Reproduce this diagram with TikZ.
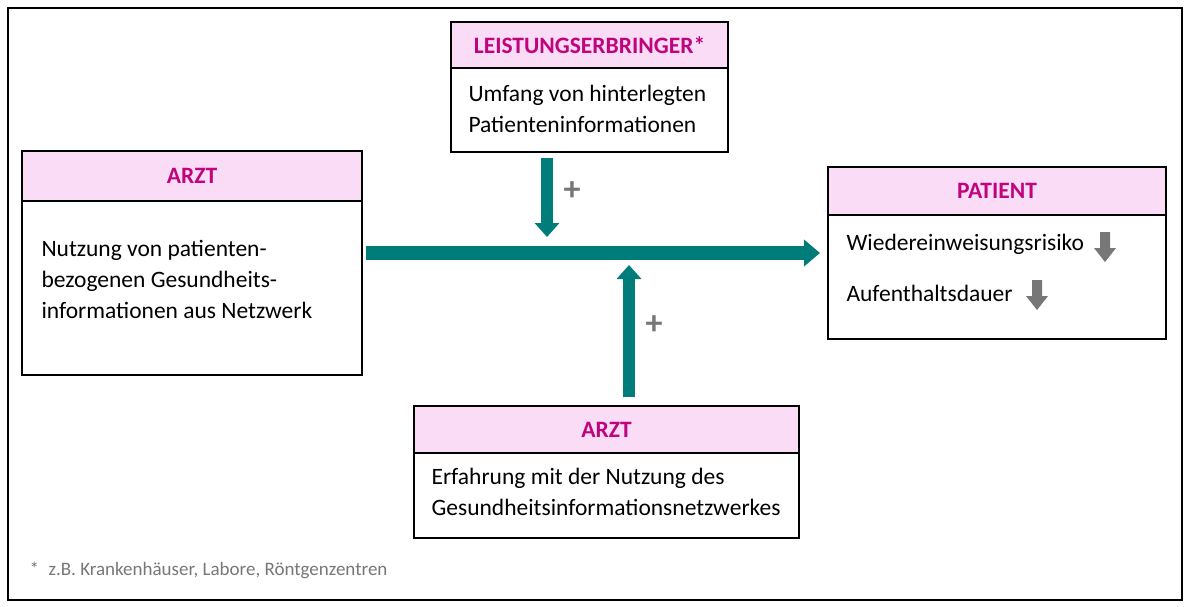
\documentclass[tikz,border=0pt]{standalone}
\usepackage{fontspec}
\setmainfont{Carlito}
\usetikzlibrary{arrows.meta}
\definecolor{teal1}{HTML}{007C7A}
\definecolor{hdr}{HTML}{FADCF7}
\definecolor{mag}{HTML}{C0047E}
\definecolor{gr}{HTML}{777777}
\tikzset{
 hd/.style={draw,line width=1.2pt,fill=hdr,text=mag,font=\fontsize{23.5}{26}\selectfont\bfseries},
 bd/.style={draw,line width=1.2pt},
 tx/.style={anchor=west,align=left,font=\fontsize{23.5}{31}\selectfont},
 ar/.style={teal1,line width=14pt,-{Triangle[length=16pt,width=26pt]}},
 pl/.style={text=gr,font=\fontsize{34}{34}\selectfont\bfseries},
 dn/.style={fill=gr,draw=none}
}
\begin{document}
\begin{tikzpicture}[x=1pt,y=-1pt]
\useasboundingbox (0,0) rectangle (1190,607);
\draw[line width=1.2pt] (8,8) rectangle (1182,600);
% left
\draw[bd] (22,201) rectangle (362,375);
\draw[hd] (22,151) rectangle (362,201) node[midway] (a1) {ARZT};
\node[tx] (t1) at (38,279) {Nutzung von patienten-\\bezogenen Gesundheits-\\informationen aus Netzwerk};
% top
\draw[bd] (451,68) rectangle (728,152);
\draw[hd] (451,22) rectangle (728,68) node[midway] (a2) {LEISTUNGSERBRINGER*};
\node[tx] (t2) at (465,109) {Umfang von hinterlegten\\Patienteninformationen};
% right
\draw[bd] (828,215) rectangle (1166,339);
\draw[hd] (828,167) rectangle (1166,215) node[midway] (a3) {PATIENT};
\node[tx] (t3) at (843,244) {Wiedereinweisungsrisiko};
\node[tx] (t4) at (843,293) {Aufenthaltsdauer};
% bottom
\draw[bd] (414,453) rectangle (799,538);
\draw[hd] (414,406) rectangle (799,453) node[midway] (a4) {ARZT};
\node[tx] (t5) at (428,492) {Erfahrung mit der Nutzung des\\Gesundheitsinformationsnetzwerkes};
% arrows
\coordinate (m1) at (366,253);
\coordinate (m2) at (820,253);
\draw[ar] (m1) -- (m2);
\coordinate (d1) at (547,158);
\coordinate (d2) at (547,237);
\draw[ar,line width=12pt,-{Triangle[length=14pt,width=24pt]}] (d1) -- (d2);
\coordinate (u1) at (629,397);
\coordinate (u2) at (629,265);
\draw[ar,line width=12pt,-{Triangle[length=14pt,width=24pt]}] (u1) -- (u2);
\node[pl] (p1) at (572,191) {+};
\node[pl] (p2) at (654,325) {+};
% down arrows
\fill[dn] (1100,232) -- (1110,232) -- (1110,248) -- (1116,248) -- (1105,262) -- (1094,248) -- (1100,248) -- cycle;
\fill[dn] (1032,280) -- (1042,280) -- (1042,296) -- (1048,296) -- (1037,310) -- (1026,296) -- (1032,296) -- cycle;
\node[anchor=west,text=gr,font=\fontsize{19}{20}\selectfont] (fn) at (26,570) {*\; z.B. Krankenhäuser, Labore, Röntgenzentren};
\end{tikzpicture}
\end{document}
